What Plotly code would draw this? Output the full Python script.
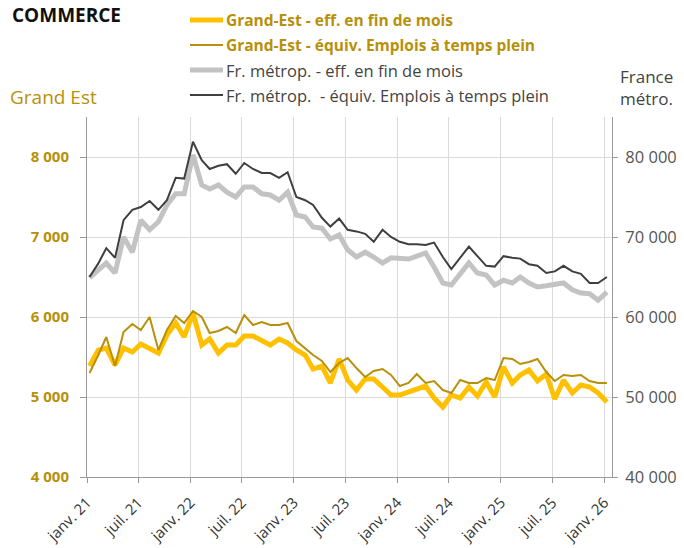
import pandas as pd
import plotly.graph_objects as go

# monthly series, janv. 2021 -> janv. 2026
mois = pd.date_range("2021-01-01", "2026-01-01", freq="MS") + pd.Timedelta(days=9)

ge_eff = [5387, 5587, 5612, 5400, 5612, 5562, 5662, 5612, 5550, 5775,
          5925, 5750, 6050, 5650, 5725, 5550, 5650, 5650, 5762, 5762,
          5712, 5650, 5725, 5675, 5587, 5525, 5350, 5387, 5175, 5475,
          5212, 5087, 5225, 5225, 5125, 5025, 5025, 5062, 5087, 5137,
          4987, 4875, 5025, 4987, 5125, 5012, 5187, 5000, 5375, 5175,
          5275, 5337, 5200, 5287, 4975, 5212, 5050, 5150, 5125, 5050,
          4937]

ge_etp = [5300, 5525, 5750, 5387, 5812, 5912, 5837, 6000, 5587, 5837,
          6012, 5925, 6075, 6000, 5800, 5825, 5875, 5800, 6025, 5900,
          5937, 5900, 5900, 5925, 5700, 5612, 5525, 5450, 5312, 5425,
          5487, 5362, 5250, 5325, 5350, 5275, 5137, 5175, 5287, 5175,
          5200, 5087, 5050, 5212, 5175, 5175, 5237, 5212, 5487, 5475,
          5412, 5437, 5475, 5312, 5200, 5275, 5262, 5275, 5200, 5175,
          5175]

fr_eff = [64900, 65900, 66750, 65500, 70000, 68100, 72100, 70900, 71900, 74000,
          75400, 75400, 80250, 76500, 76000, 76500, 75600, 75000, 76250, 76250,
          75400, 75250, 74600, 75600, 72750, 72500, 71250, 71100, 69750, 70250,
          68400, 67500, 68100, 67500, 66750, 67400, 67400, 67250, 67600, 68000,
          66250, 64250, 64000, 65500, 66750, 65500, 65250, 64000, 64600, 64250,
          65000, 64250, 63750, 63900, 64100, 64250, 63400, 63000, 62900, 62100,
          63100]

fr_etp = [65000, 66700, 68600, 67400, 72100, 73400, 73750, 74500, 73400, 74600,
          77400, 77300, 81900, 79600, 78500, 78900, 79100, 77900, 79250, 78500,
          78000, 78000, 77400, 78100, 75000, 74600, 74000, 72400, 71300, 72300,
          70900, 70700, 70400, 69400, 70900, 70000, 69400, 69100, 69100, 69000,
          69300, 67500, 66000, 67400, 68800, 67600, 66400, 66300, 67600, 67400,
          67300, 66600, 66400, 65500, 65700, 66400, 65700, 65400, 64250, 64250,
          65000]

tick_dates = pd.date_range("2021-01-01", "2026-01-01", freq="6MS")
tick_labels = ["janv. 21", "juil. 21", "janv. 22", "juil. 22", "janv. 23",
               "juil. 23", "janv. 24", "juil. 24", "janv. 25", "juil. 25",
               "janv. 26"]

OLIVE = "#B8900A"
FONT = "Open Sans"
# the page body adds an 8px margin, so the figure is 8px smaller than the window
OFF = 8
W, H = 684 - OFF, 548 - OFF
L, T = 87 - OFF, 117 - OFF
PW, PH = 525, 360
R, B = W - L - PW, H - T - PH


def px_x(x):
    # window pixel -> paper coordinate
    return (x - OFF - L) / PW


def px_y(y):
    return (T + PH - (y - OFF)) / PH


series = [
    # name, values, axis, color, width, bold legend text
    ("Fr. métrop. - eff. en fin de mois", fr_eff, "y2", "#C3C3C3", 5, False),
    ("Fr. métrop.  - équiv. Emplois à temps plein", fr_etp, "y2", "#3F3F3F", 2, False),
    ("Grand-Est - eff. en fin de mois", ge_eff, "y", "#FFC000", 5, True),
    ("Grand-Est - équiv. Emplois à temps plein", ge_etp, "y", OLIVE, 2, True),
]

fig = go.Figure()
for name, vals, ax, col, lw, _ in series:
    fig.add_trace(go.Scatter(x=mois, y=vals, mode="lines", yaxis=ax, name=name,
                             line=dict(color=col, width=lw), showlegend=False))

# hand-drawn legend (plotly legends outside the plot push the margins)
legend_rows = [2, 3, 0, 1]
for row, k in enumerate(legend_rows):
    name, _, _, col, lw, bold = series[k]
    yc = [20, 45, 70, 95][row]
    fig.add_shape(type="line", xref="paper", yref="paper",
                  x0=px_x(190), x1=px_x(223), y0=px_y(yc), y1=px_y(yc),
                  line=dict(color=col, width=lw))
    fig.add_annotation(text=f"<b>{name}</b>" if bold else name,
                       xref="paper", yref="paper", x=px_x(224), y=px_y(yc),
                       xanchor="left", yanchor="middle", showarrow=False,
                       font=dict(family=FONT, size=15.5 if bold else 16.5,
                                 color=OLIVE if bold else "#444"))

fig.update_layout(
    width=W, height=H,
    margin=dict(l=L, r=R, t=T, b=B),
    paper_bgcolor="white", plot_bgcolor="white",
    font=dict(family=FONT, size=13, color="#333"),
    separators=", ",
    showlegend=False,
    xaxis=dict(range=["2021-01-01", "2026-01-28"], automargin=False,
               tickvals=tick_dates, ticktext=tick_labels, tickangle=-45,
               showgrid=True, gridcolor="#DADADA", gridwidth=1,
               showline=True, linecolor="#999", ticks="outside",
               ticklen=5, tickcolor="#999", ticklabelstandoff=5,
               tickfont=dict(size=15, color="#333")),
    yaxis=dict(range=[4000, 8500], tickvals=[4000, 5000, 6000, 7000, 8000],
               automargin=False,
               tickformat=",.0f", showgrid=True, gridcolor="#DADADA",
               showline=True, linecolor="#999", ticks="outside",
               ticklen=6, tickcolor="#999", zeroline=False,
               ticklabelstandoff=8,
               tickfont=dict(size=15, color=OLIVE, weight="bold")),
    yaxis2=dict(range=[40000, 85000], overlaying="y", side="right",
                automargin=False,
                tickvals=[40000, 50000, 60000, 70000, 80000],
                tickformat=",.0f", showgrid=False,
                showline=True, linecolor="#999", ticks="outside",
                ticklen=5, tickcolor="#999", zeroline=False,
                ticklabelstandoff=4,
                tickfont=dict(size=16.5, color="#555")),
)

fig.add_annotation(text="<b>COMMERCE</b>", xref="paper", yref="paper",
                   x=px_x(10), y=px_y(15), xanchor="left", yanchor="middle",
                   showarrow=False, font=dict(family=FONT, size=19, color="#111"))
fig.add_annotation(text="Grand Est", xref="paper", yref="paper",
                   x=px_x(8), y=px_y(97), xanchor="left", yanchor="middle",
                   showarrow=False, font=dict(family=FONT, size=19, color=OLIVE))
fig.add_annotation(text="France<br>métro.", xref="paper", yref="paper",
                   x=px_x(618), y=px_y(112), xanchor="left", yanchor="bottom",
                   align="left", showarrow=False,
                   font=dict(family=FONT, size=17, color="#444"))

fig.write_html("out.html")
